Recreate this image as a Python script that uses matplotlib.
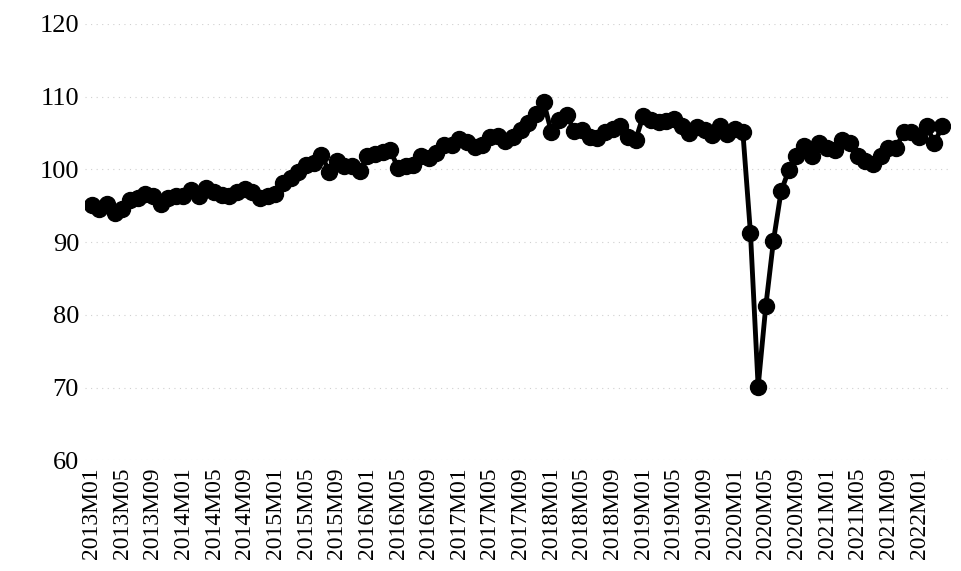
import matplotlib
matplotlib.use("Agg")
import matplotlib.pyplot as plt

# monthly index, 2013M01 .. 2022M04
values = [
    95.1, 94.5, 95.2, 94.0, 94.6, 95.8, 96.0, 96.6, 96.3, 95.3, 96.0, 96.3,   # 2013
    96.4, 97.1, 96.4, 97.5, 96.9, 96.5, 96.3, 96.9, 97.3, 96.9, 96.1, 96.3,   # 2014
    96.6, 98.1, 98.8, 99.6, 100.6, 100.9, 102.0, 99.7, 101.2, 100.5, 100.4, 99.8,  # 2015
    101.8, 102.1, 102.4, 102.6, 100.2, 100.5, 100.6, 101.9, 101.6, 102.2, 103.3, 103.3,  # 2016
    104.2, 103.8, 103.1, 103.4, 104.5, 104.6, 103.9, 104.5, 105.4, 106.4, 107.6, 109.3,  # 2017
    105.2, 106.8, 107.5, 105.3, 105.4, 104.5, 104.3, 105.2, 105.6, 106.0, 104.5, 104.0,  # 2018
    107.4, 106.8, 106.5, 106.6, 106.9, 106.0, 105.0, 105.8, 105.4, 104.7, 106.0, 104.9,  # 2019
    105.6, 105.2, 91.2, 70.1, 81.2, 90.2, 97.0, 99.9, 101.8, 103.2, 101.8, 103.6,  # 2020
    102.9, 102.6, 104.0, 103.6, 101.9, 101.2, 100.8, 101.8, 102.9, 102.9, 105.2, 105.2,  # 2021
    104.5, 106.0, 103.6, 105.9,  # 2022
]
start_year = 2013
months = ["%dM%02d" % (start_year + k // 12, k % 12 + 1) for k in range(len(values))]
tick_step = 4
y_ticks = [60, 70, 80, 90, 100, 110, 120]

plt.rcParams['font.family'] = ['Liberation Serif', 'DejaVu Serif']

fig = plt.figure(figsize=(9.62, 5.71), dpi=100)
ax = fig.add_axes([0.088, 0.194, 0.900, 0.764])

x = list(range(len(values)))
ax.plot(x, values, color='black', linewidth=3.5, marker='o', markersize=11.5, zorder=3)

ax.set_ylim(60, 120)
ax.set_yticks(y_ticks)
ax.set_xlim(-0.9, 112.1)
ax.set_xticks(x[::tick_step])
ax.set_xticklabels(months[::tick_step], rotation=90, fontsize=17)
ax.tick_params(axis='y', labelsize=19, length=0, pad=4)
ax.tick_params(axis='x', length=0, pad=5)

ax.grid(axis='y', color='#d0d0d0', linewidth=0.8, linestyle=(0, (1, 4)), zorder=0)
for s in ax.spines.values():
    s.set_visible(False)

fig.savefig("out.png", dpi=100)
